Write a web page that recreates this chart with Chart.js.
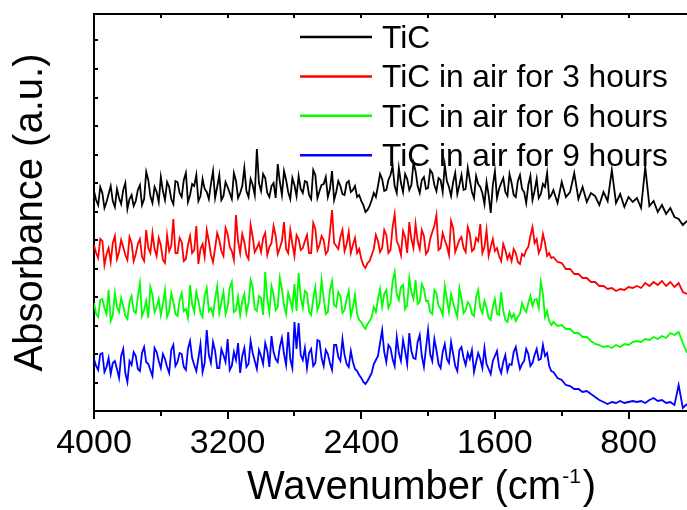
<!DOCTYPE html>
<html>
<head>
<meta charset="utf-8">
<script src="https://cdn.jsdelivr.net/npm/chart.js@4/dist/chart.umd.min.js"></script>
<style>
  html, body { margin: 0; padding: 0; background: #fff; }
  canvas { display: block; }
</style>
</head>
<body>
<canvas id="chart" width="687" height="510"></canvas>
<script>
// sampled every 25 cm-1 from 4000 down to 450
const wavenumbers = [
  4000, 3975, 3950, 3925, 3900, 3875, 3850, 3825, 3800, 3775,
  3750, 3725, 3700, 3675, 3650, 3625, 3600, 3575, 3550, 3525,
  3500, 3475, 3450, 3425, 3400, 3375, 3350, 3325, 3300, 3275,
  3250, 3225, 3200, 3175, 3150, 3125, 3100, 3075, 3050, 3025,
  3000, 2975, 2950, 2925, 2900, 2875, 2850, 2825, 2800, 2775,
  2750, 2725, 2700, 2675, 2650, 2625, 2600, 2575, 2550, 2525,
  2500, 2475, 2450, 2425, 2400, 2375, 2350, 2325, 2300, 2275,
  2250, 2225, 2200, 2175, 2150, 2125, 2100, 2075, 2050, 2025,
  2000, 1975, 1950, 1925, 1900, 1875, 1850, 1825, 1800, 1775,
  1750, 1725, 1700, 1675, 1650, 1625, 1600, 1575, 1550, 1525,
  1500, 1475, 1450, 1425, 1400, 1375, 1350, 1325, 1300, 1275,
  1250, 1225, 1200, 1175, 1150, 1125, 1100, 1075, 1050, 1025,
  1000, 975, 950, 925, 900, 875, 850, 825, 800, 775,
  750, 725, 700, 675, 650, 625, 600, 575, 550, 525,
  500, 475, 450
]
// extra readings in between, over the noisy part of the spectra
const wavenumbersMid = [
  3987.5, 3962.5, 3937.5, 3912.5, 3887.5, 3862.5, 3837.5, 3812.5, 3787.5, 3762.5,
  3737.5, 3712.5, 3687.5, 3662.5, 3637.5, 3612.5, 3587.5, 3562.5, 3537.5, 3512.5,
  3487.5, 3462.5, 3437.5, 3412.5, 3387.5, 3362.5, 3337.5, 3312.5, 3287.5, 3262.5,
  3237.5, 3212.5, 3187.5, 3162.5, 3137.5, 3112.5, 3087.5, 3062.5, 3037.5, 3012.5,
  2987.5, 2962.5, 2937.5, 2912.5, 2887.5, 2862.5, 2837.5, 2812.5, 2787.5, 2762.5,
  2737.5, 2712.5, 2687.5, 2662.5, 2637.5, 2612.5, 2587.5, 2562.5, 2537.5, 2512.5,
  2487.5, 2462.5, 2437.5, 2412.5, 2387.5, 2362.5, 2337.5, 2312.5, 2287.5, 2262.5,
  2237.5, 2212.5, 2187.5, 2162.5, 2137.5, 2112.5, 2087.5, 2062.5, 2037.5, 2012.5,
  1987.5, 1962.5, 1937.5, 1912.5, 1887.5, 1862.5, 1837.5, 1812.5, 1787.5, 1762.5,
  1737.5, 1712.5, 1687.5, 1662.5, 1637.5, 1612.5, 1587.5, 1562.5, 1537.5, 1512.5,
  1487.5, 1462.5, 1437.5, 1412.5, 1387.5, 1362.5, 1337.5, 1312.5, 1287.5, 1262.5
]

// absorbance in arbitrary units (curves are offset from each other)
const tic = [
  220, 206, 218, 209, 225, 204, 213, 221, 202, 216,
  210, 226, 212, 231, 208, 219, 234, 211, 224, 207,
  229, 214, 238, 216, 225, 210, 232, 219, 227, 213,
  236, 215, 224, 212, 230, 218, 243, 214, 226, 262,
  220, 233, 214, 228, 247, 216, 231, 212, 226, 235,
  218, 229, 212, 236, 220, 227, 214, 240, 219, 225,
  216, 230, 221, 214, 210, 199, 205, 218, 225, 232,
  221, 236, 225, 243, 219, 232, 226, 240, 218, 234,
  223, 238, 220, 231, 246, 224, 229, 217, 236, 222,
  231, 213, 227, 218, 229, 198, 240, 222, 233, 215,
  228, 214, 236, 219, 226, 211, 232, 217, 224, 213,
  221, 208, 229, 214, 219, 238, 212, 224, 209, 218,
  215, 206, 219, 210, 241, 208, 217, 204, 214, 209,
  213, 203, 244, 205, 210, 199, 206, 197, 203, 194,
  192, 186, 190
]
const ticMid = [
  211, 224, 203, 217, 210, 222, 207, 228, 212, 205,
  221, 206, 239, 215, 224, 209, 220, 229, 212, 230,
  218, 231, 209, 227, 236, 215, 222, 212, 240, 224,
  211, 229, 218, 238, 213, 225, 220, 232, 216, 228,
  237, 218, 225, 213, 229, 240, 219, 233, 215, 222,
  230, 216, 241, 213, 226, 234, 222, 211, 230, 217,
  228, 219, 225, 216, 206, 201, 211, 214, 237, 220,
  231, 245, 218, 228, 237, 221, 248, 225, 231, 222,
  241, 226, 233, 219, 230, 215, 238, 226, 221, 243,
  219, 235, 224, 207, 216, 226, 213, 228, 219, 237,
  216, 230, 222, 208, 235, 220, 213, 227, 238, 216
]
const tic3h = [
  166, 153, 170, 157, 149, 175, 159, 164, 151, 168,
  157, 172, 150, 163, 178, 155, 166, 148, 160, 192,
  158, 169, 152, 175, 161, 147, 167, 181, 156, 163,
  171, 155, 177, 160, 196, 158, 169, 152, 174, 163,
  159, 178, 164, 185, 157, 170, 162, 181, 155, 172,
  163, 176, 158, 182, 166, 171, 160, 201, 165, 174,
  160, 179, 166, 158, 152, 143, 150, 162, 170, 163,
  176, 161, 197, 165, 180, 158, 172, 187, 162, 175,
  160, 179, 196, 163, 171, 156, 183, 165, 174, 159,
  177, 162, 170, 158, 181, 164, 160, 155, 167, 152,
  150, 158, 147, 155, 164, 184, 172, 163, 168, 158,
  154, 149, 148, 142, 142, 137, 137, 133, 133, 129,
  129, 125, 125, 122, 123, 120, 122, 121, 124, 123,
  125, 123, 128, 125, 129, 126, 130, 125, 129, 124,
  128, 119, 117
]
const tic3hMid = [
  158, 172, 146, 163, 168, 152, 171, 156, 174, 150,
  167, 154, 181, 158, 162, 173, 151, 176, 165, 158,
  173, 150, 166, 158, 185, 162, 154, 170, 149, 178,
  160, 183, 164, 151, 170, 177, 156, 186, 159, 168,
  173, 156, 168, 175, 163, 189, 158, 167, 176, 161,
  170, 158, 188, 161, 175, 157, 179, 168, 162, 181,
  167, 158, 173, 162, 146, 148, 156, 176, 159, 181,
  158, 184, 170, 156, 174, 189, 163, 170, 181, 157,
  172, 185, 161, 178, 165, 190, 159, 171, 163, 184,
  160, 173, 187, 164, 155, 172, 163, 150, 161, 157,
  162, 149, 157, 161, 175, 168, 158, 177, 155, 153
]
const tic6h = [
  108, 94, 112, 97, 90, 118, 99, 105, 92, 115,
  98, 128, 101, 93, 116, 104, 96, 121, 100, 109,
  95, 118, 102, 126, 99, 110, 94, 123, 103, 112,
  98, 119, 105, 129, 101, 96, 117, 108, 124, 100,
  113, 139, 99, 116, 104, 122, 97, 111, 127, 138,
  103, 118, 96, 124, 107, 113, 99, 130, 104, 115,
  101, 120, 104, 97, 89, 82, 90, 104, 112, 104,
  121, 108, 139, 111, 126, 106, 119, 131, 109, 122,
  110, 97, 118, 102, 125, 99, 108, 94, 113, 101,
  106, 95, 121, 98, 103, 91, 112, 96, 100, 89,
  93, 90, 97, 102, 108, 105, 112, 129, 94, 90,
  89, 85, 86, 82, 82, 78, 78, 74, 74, 70,
  67, 66, 64, 65, 63, 66, 64, 67, 66, 69,
  70, 69, 72, 71, 74, 72, 75, 73, 78, 76,
  79, 68, 58
]
const tic6hMid = [
  97, 111, 103, 121, 96, 104, 113, 95, 109, 100,
  114, 95, 110, 124, 99, 112, 107, 94, 118, 97,
  111, 100, 93, 107, 119, 98, 115, 100, 96, 125,
  109, 97, 123, 99, 114, 110, 98, 131, 102, 115,
  96, 112, 125, 101, 133, 106, 118, 102, 100, 114,
  120, 99, 112, 101, 131, 97, 121, 106, 119, 98,
  112, 95, 116, 91, 85, 87, 94, 99, 122, 117,
  103, 129, 117, 124, 102, 133, 112, 107, 127, 110,
  99, 121, 105, 96, 112, 117, 101, 123, 98, 109,
  97, 114, 103, 110, 93, 104, 97, 119, 91, 99,
  97, 94, 108, 99, 115, 111, 103, 117, 100, 86
]
const tic9h = [
  52, 41, 58, 44, 37, 50, 33, 62, 29, 46,
  55, 40, 64, 47, 35, 59, 43, 52, 38, 66,
  49, 57, 41, 70, 46, 53, 39, 81, 48, 60,
  43, 56, 72, 45, 51, 38, 63, 47, 58, 42,
  55, 68, 44, 59, 49, 73, 46, 52, 89, 88,
  51, 43, 62, 48, 70, 45, 57, 41, 66, 50,
  56, 44, 49, 40, 33, 27, 34, 47, 55, 81,
  49, 63, 45, 58, 71, 47, 60, 52, 76, 44,
  81, 50, 61, 43, 67, 48, 57, 40, 64, 46,
  52, 39, 58, 43, 47, 37, 55, 44, 49, 40,
  46, 64, 42, 50, 57, 48, 62, 52, 55, 45,
  39, 33, 31, 26, 25, 22, 22, 19, 20, 17,
  14, 11, 9, 7, 9, 8, 10, 8, 9, 10,
  9, 10, 8, 11, 13, 10, 11, 8, 9, 6,
  26, 3, 7
]
const tic9hMid = [
  45, 57, 39, 53, 48, 42, 55, 38, 50, 59,
  42, 58, 49, 41, 63, 50, 57, 44, 61, 45,
  58, 44, 62, 53, 40, 67, 48, 56, 69, 43,
  62, 49, 41, 59, 68, 55, 44, 70, 50, 61,
  47, 60, 75, 52, 64, 57, 79, 43, 62, 56,
  63, 58, 45, 71, 53, 61, 48, 66, 54, 72,
  47, 60, 42, 36, 29, 30, 38, 51, 68, 59,
  66, 52, 74, 50, 60, 78, 53, 69, 55, 63,
  57, 72, 47, 59, 52, 69, 45, 61, 53, 58,
  61, 49, 52, 63, 42, 50, 60, 38, 56, 47,
  59, 52, 47, 62, 45, 56, 51, 66, 58, 40
]

const seriesNames = ['TiC', 'TiC in air for 3 hours', 'TiC in air for 6 hours', 'TiC in air for 9 hours']
const seriesColors = ['#000000', '#ff0000', '#00ff00', '#0000ff']
const xTicks = [4000, 3200, 2400, 1600, 800]
const xMinorTicks = [3600, 2800, 2000, 1200]

const FONT = '"Liberation Sans", Arial, sans-serif'
Chart.defaults.font.family = FONT
Chart.defaults.color = '#000'

const toPoints = (vals, mids) => wavenumbers.map((w, i) => ({x: w, y: vals[i]}))
  .concat(wavenumbersMid.map((w, i) => ({x: w, y: mids[i]})))
  .sort((a, b) => b.x - a.x)

// legend, top frame, minor ticks and the x title (with superscript)
const frame = {
  id: 'frame',
  afterDraw(chart) {
    const {ctx, chartArea: a, scales: {x, y}} = chart
    ctx.save()
    ctx.strokeStyle = '#000'
    ctx.lineWidth = 2
    ctx.beginPath()
    ctx.moveTo(a.left - 1, a.top)
    ctx.lineTo(a.right, a.top)
    xTicks.concat(xMinorTicks).forEach(v => {
      const px = Math.round(x.getPixelForValue(v))
      ctx.moveTo(px, a.top)
      ctx.lineTo(px, a.top + 4)
    })
    xMinorTicks.forEach(v => {
      const px = Math.round(x.getPixelForValue(v))
      ctx.moveTo(px, a.bottom)
      ctx.lineTo(px, a.bottom + 5)
    })
    y.ticks.forEach(t => {
      const py = Math.round(y.getPixelForValue(t.value))
      ctx.moveTo(a.left, py)
      ctx.lineTo(a.left + 4, py)
    })
    ctx.stroke()

    ctx.font = '31.7px ' + FONT
    ctx.textBaseline = 'alphabetic'
    chart.data.datasets.forEach((ds, i) => {
      const ly = 37 + i * 39.4
      ctx.strokeStyle = ds.borderColor
      ctx.lineWidth = 2.5
      ctx.beginPath()
      ctx.moveTo(300, ly)
      ctx.lineTo(372, ly)
      ctx.stroke()
      ctx.fillStyle = '#000'
      ctx.fillText(ds.label, 382, ly + 11)
    })

    let tx = 247
    const base = 499
    ctx.font = '40px ' + FONT
    ctx.fillText('Wavenumber (cm', tx, base)
    tx += ctx.measureText('Wavenumber (cm').width + 1
    ctx.font = '21px ' + FONT
    ctx.fillText('-1', tx, base - 16)
    tx += ctx.measureText('-1').width + 2
    ctx.font = '40px ' + FONT
    ctx.fillText(')', tx, base)
    ctx.restore()
  }
}

new Chart(document.getElementById('chart'), {
  type: 'line',
  data: {
    datasets: [[tic, ticMid], [tic3h, tic3hMid], [tic6h, tic6hMid], [tic9h, tic9hMid]].map(([vals, mids], i) => ({
      label: seriesNames[i],
      data: toPoints(vals, mids),
      borderColor: seriesColors[i],
      backgroundColor: seriesColors[i],
      borderWidth: 1.8,
      pointRadius: 0,
      tension: 0
    }))
  },
  options: {
    responsive: false,
    animation: false,
    devicePixelRatio: 1,
    layout: {padding: {top: 14, right: 0, left: 0, bottom: 0}},
    plugins: {legend: {display: false}, tooltip: {enabled: false}},
    scales: {
      x: {
        type: 'linear',
        reverse: true,
        min: 450,
        max: 4000,
        afterBuildTicks: s => { s.ticks = xTicks.map(v => ({value: v})) },
        afterFit: s => { s.height = 99 },
        ticks: {font: {size: 34}, color: '#000', padding: 4, maxRotation: 0, autoSkip: false, callback: v => String(v)},
        grid: {drawOnChartArea: false, tickLength: 8, lineWidth: 2, color: '#000'},
        border: {display: true, color: '#000', width: 2}
      },
      y: {
        min: 0,
        max: 397,
        ticks: {display: false, stepSize: 28.5},
        afterFit: s => { s.width = 94 },
        grid: {drawOnChartArea: false, drawTicks: false},
        border: {display: true, color: '#000', width: 2},
        title: {display: true, text: 'Absorbance (a.u.)', font: {size: 40}, color: '#000', padding: {top: 7, bottom: 0}}
      }
    }
  },
  plugins: [frame]
})
</script>
</body>
</html>
